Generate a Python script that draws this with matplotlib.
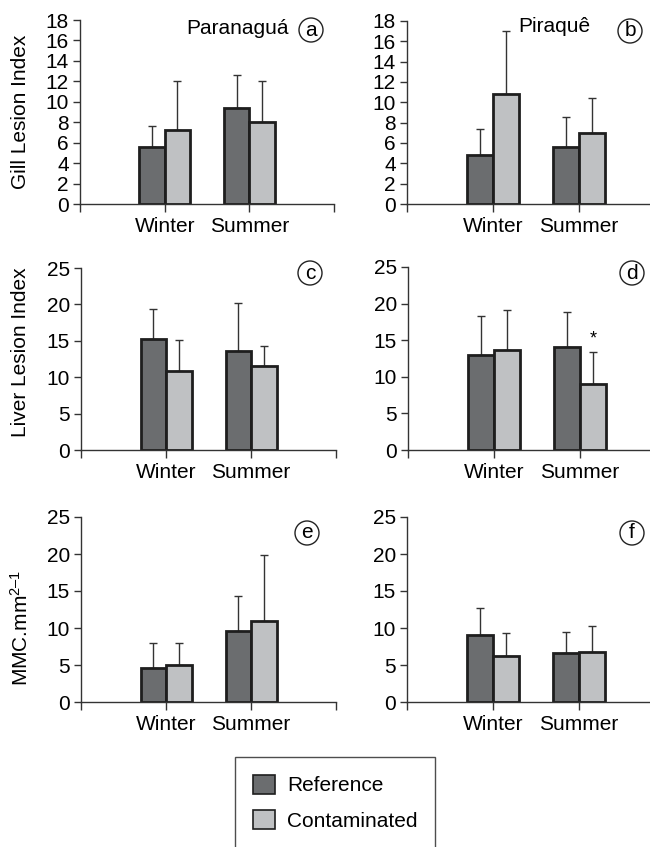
import numpy as np
import matplotlib
matplotlib.use("Agg")
import matplotlib.pyplot as plt
from matplotlib.patches import Patch

plt.rcParams['font.family'] = ['Liberation Sans', 'DejaVu Sans']
plt.rcParams['mathtext.fontset'] = 'custom'
plt.rcParams['mathtext.rm'] = 'Liberation Sans'
plt.rcParams['mathtext.default'] = 'regular'

seasons = ['Winter', 'Summer']

# mean and upper SD
gill_par_ref = [5.6, 9.4]
gill_par_ref_sd = [2.03, 3.2]
gill_par_con = [7.2, 8.0]
gill_par_con_sd = [4.8, 4.05]

gill_pir_ref = [4.8, 5.6]
gill_pir_ref_sd = [2.55, 2.95]
gill_pir_con = [10.8, 7.0]
gill_pir_con_sd = [6.2, 3.4]

liver_par_ref = [15.2, 13.6]
liver_par_ref_sd = [4.1, 6.6]
liver_par_con = [10.8, 11.6]
liver_par_con_sd = [4.25, 2.75]

liver_pir_ref = [13.0, 14.05]
liver_pir_ref_sd = [5.3, 4.85]
liver_pir_con = [13.65, 9.05]
liver_pir_con_sd = [5.5, 4.3]

mmc_par_ref = [4.6, 9.55]
mmc_par_ref_sd = [3.35, 4.8]
mmc_par_con = [4.95, 11.0]
mmc_par_con_sd = [3.05, 8.9]

mmc_pir_ref = [9.05, 6.6]
mmc_pir_ref_sd = [3.65, 2.8]
mmc_pir_con = [6.2, 6.7]
mmc_pir_con_sd = [3.15, 3.55]

ref_color = '#6b6d6f'
con_color = '#bfc1c3'
edge = '#1e1e1e'
fs = 15

W, H = 650, 847
fig = plt.figure(figsize=(6.5, 8.47), dpi=100)


def px_axes(left, right, y0, ytop):
    return fig.add_axes([left / W, 1 - y0 / H, (right - left) / W, (y0 - ytop) / H])


def panel(ax, ref, ref_sd, con, con_sd, ymax, step, letter, lx, ly):
    x = np.arange(1, len(seasons) + 1)
    w = 0.3
    ax.errorbar(x - w / 2, ref, yerr=[np.zeros(len(ref)), ref_sd], fmt='none',
                ecolor='#333333', elinewidth=1, capsize=3, capthick=1, zorder=1)
    ax.errorbar(x + w / 2, con, yerr=[np.zeros(len(con)), con_sd], fmt='none',
                ecolor='#333333', elinewidth=1, capsize=3, capthick=1, zorder=1)
    ax.bar(x - w / 2, ref, w, color=ref_color, edgecolor=edge, linewidth=2, zorder=2)
    ax.bar(x + w / 2, con, w, color=con_color, edgecolor=edge, linewidth=2, zorder=2)
    ax.set_xlim(0, 3)
    ax.set_ylim(0, ymax)
    ax.set_yticks(np.arange(0, ymax + 0.1, step))
    ax.set_xticks([0, 1, 2, 3])
    ax.set_xticklabels([''] + seasons + [''])
    for s in ['top', 'right']:
        ax.spines[s].set_visible(False)
    for s in ['left', 'bottom']:
        ax.spines[s].set_color('#333333')
        ax.spines[s].set_linewidth(1)
    ax.tick_params(axis='y', direction='out', length=5, width=1, color='#333333',
                   labelsize=fs, pad=3)
    ax.tick_params(axis='x', direction='out', length=6, width=1, color='#333333',
                   labelsize=fs, pad=3)
    ax.patch.set_alpha(0)
    fig.text(lx / W, 1 - ly / H, letter, fontsize=fs, ha='center', va='center',
             bbox=dict(boxstyle='circle,pad=0.12', fc='white', ec='#222222', lw=1))
    return x, w


ax_a = px_axes(80, 334, 204, 20)
panel(ax_a, gill_par_ref, gill_par_ref_sd, gill_par_con, gill_par_con_sd, 18, 2, 'a', 311, 30)
ax_b = px_axes(407, 665, 204, 21)
panel(ax_b, gill_pir_ref, gill_pir_ref_sd, gill_pir_con, gill_pir_con_sd, 18, 2, 'b', 630, 31)
ax_c = px_axes(81, 336, 450, 268)
panel(ax_c, liver_par_ref, liver_par_ref_sd, liver_par_con, liver_par_con_sd, 25, 5, 'c', 310, 273)
ax_d = px_axes(408, 666, 450, 267)
x, w = panel(ax_d, liver_pir_ref, liver_pir_ref_sd, liver_pir_con, liver_pir_con_sd, 25, 5, 'd', 632, 273)
ax_e = px_axes(81, 336, 702, 517)
panel(ax_e, mmc_par_ref, mmc_par_ref_sd, mmc_par_con, mmc_par_con_sd, 25, 5, 'e', 307, 533)
ax_f = px_axes(407, 665, 702, 517)
panel(ax_f, mmc_pir_ref, mmc_pir_ref_sd, mmc_pir_con, mmc_pir_con_sd, 25, 5, 'f', 632, 533)

# significance mark
ax_d.text(x[1] + w / 2, liver_pir_con[1] + liver_pir_con_sd[1] + 0.6, '*',
          ha='center', va='bottom', fontsize=13)

fig.text(186 / W, 1 - 28 / H, 'Paranaguá', fontsize=fs, ha='left', va='center')
fig.text(518 / W, 1 - 27 / H, 'Piraquê', fontsize=fs, ha='left', va='center')

fig.text(21 / W, 1 - 112 / H, 'Gill Lesion Index', fontsize=fs, rotation=90,
         ha='center', va='center')
fig.text(21 / W, 1 - 352 / H, 'Liver Lesion Index', fontsize=fs, rotation=90,
         ha='center', va='center')
fig.text(21 / W, 1 - 628 / H, 'MMC.mm$^{2\u20131}$', fontsize=fs, rotation=90,
         ha='center', va='center')

handles = [Patch(facecolor=ref_color, edgecolor=edge, linewidth=1.2),
           Patch(facecolor=con_color, edgecolor=edge, linewidth=1.2)]
leg = fig.legend(handles, ['Reference', 'Contaminated'], loc='upper left',
                 bbox_to_anchor=(235 / W, 1 - 757 / H), borderaxespad=0,
                 fontsize=fs, frameon=True, fancybox=False, borderpad=0.85,
                 handlelength=1.05, handleheight=1.05, handletextpad=0.6,
                 labelspacing=0.7)
leg.get_frame().set_edgecolor('#222222')
leg.get_frame().set_linewidth(1)

fig.savefig('out.png', dpi=100)
